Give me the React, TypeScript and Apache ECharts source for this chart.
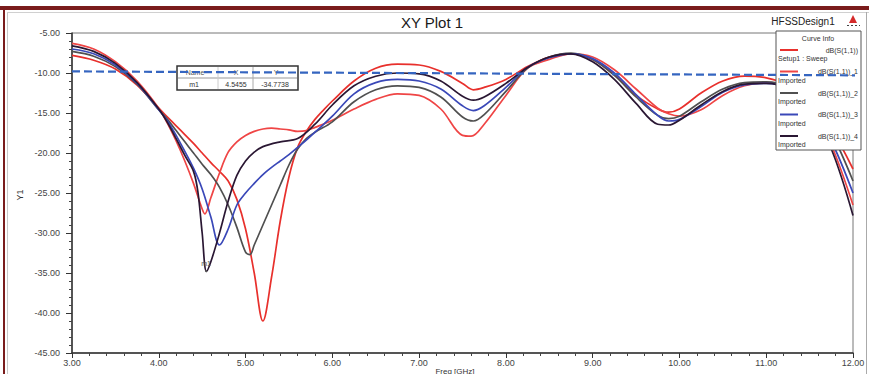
import React, { useEffect, useRef } from "react";
import * as echarts from "echarts";

// ---------- data ----------
const seriesNames = ["dB(S(1,1))", "dB(S(1,1))_1", "dB(S(1,1))_2", "dB(S(1,1))_3", "dB(S(1,1))_4"];
const seriesSubs = ["Setup1 : Sweep", "Imported", "Imported", "Imported", "Imported"];

const setupSweep: number[][] = [
  [3.0, -7.8], [3.25, -8.4], [3.5, -9.5], [3.75, -11.5], [4.0, -14.4], [4.1, -15.5], [4.2, -16.6], [4.3, -17.7],
  [4.4, -18.8], [4.5, -20.0], [4.6, -21.2], [4.7, -22.3], [4.8, -23.5], [4.9, -25.8], [5.0, -29.5], [5.1, -35.0],
  [5.2, -41.0], [5.3, -35.5], [5.4, -28.5], [5.5, -23.0], [5.6, -19.3], [5.7, -17.3], [5.8, -15.8], [5.9, -14.6],
  [6.0, -13.5], [6.25, -11.0], [6.5, -9.4], [6.75, -8.9], [7.0, -9.0], [7.25, -9.8], [7.5, -11.3], [7.625, -12.1],
  [7.75, -11.8], [8.0, -10.8], [8.25, -9.2], [8.5, -8.0], [8.75, -7.6], [9.0, -8.3], [9.25, -10.2], [9.5, -12.8],
  [9.75, -14.5], [9.875, -14.9], [10.0, -14.5], [10.25, -12.5], [10.5, -11.0], [10.75, -10.4], [11.0, -10.6],
  [11.25, -11.5], [11.5, -13.5], [11.75, -17.0], [12.0, -22.0],
];

const imported1: number[][] = [
  [3.0, -6.3], [3.25, -7.0], [3.5, -8.6], [3.75, -11.0], [4.0, -14.4], [4.1, -16.3], [4.2, -18.5], [4.3, -21.0],
  [4.4, -23.8], [4.5, -27.0], [4.53, -27.6], [4.6, -25.6], [4.7, -22.5], [4.8, -19.9], [4.9, -18.6], [5.0, -17.8],
  [5.1, -17.3], [5.2, -17.0], [5.3, -16.9], [5.4, -17.0], [5.5, -17.1], [5.6, -17.3], [5.7, -17.2], [5.8, -16.8],
  [6.0, -15.9], [6.25, -14.5], [6.5, -13.3], [6.75, -12.6], [7.0, -12.8], [7.25, -14.5], [7.5, -17.8], [7.6, -17.9],
  [7.75, -16.4], [8.0, -12.8], [8.25, -9.4], [8.5, -8.3], [8.75, -7.6], [9.0, -8.0], [9.25, -9.6], [9.5, -12.0],
  [9.75, -14.4], [9.875, -15.1], [10.0, -15.4], [10.25, -14.6], [10.5, -12.8], [10.75, -11.6], [11.0, -11.2],
  [11.25, -11.6], [11.5, -13.8], [11.75, -19.0], [12.0, -26.5],
];

const imported2: number[][] = [
  [3.0, -7.3], [3.25, -7.9], [3.5, -9.2], [3.75, -11.4], [4.0, -14.6], [4.1, -15.8], [4.2, -17.2], [4.3, -18.6],
  [4.4, -20.0], [4.5, -21.4], [4.6, -22.7], [4.7, -24.3], [4.8, -26.5], [4.9, -29.3], [5.0, -32.4], [5.05, -32.7],
  [5.1, -31.5], [5.2, -29.0], [5.3, -26.5], [5.4, -24.0], [5.5, -21.5], [5.6, -19.5], [5.7, -18.2], [5.8, -17.4],
  [6.0, -16.1], [6.25, -13.6], [6.5, -12.1], [6.75, -11.6], [7.0, -11.8], [7.25, -13.0], [7.5, -15.5], [7.625, -16.0],
  [7.75, -15.2], [8.0, -12.3], [8.25, -9.4], [8.5, -8.0], [8.75, -7.5], [9.0, -8.3], [9.25, -10.3], [9.5, -13.0],
  [9.75, -15.3], [9.875, -15.7], [10.0, -15.4], [10.25, -13.6], [10.5, -12.0], [10.75, -11.2], [11.0, -11.1],
  [11.25, -11.7], [11.5, -13.6], [11.75, -17.5], [12.0, -23.5],
];

const imported3: number[][] = [
  [3.0, -7.0], [3.25, -7.6], [3.5, -9.0], [3.75, -11.3], [4.0, -14.6], [4.1, -16.0], [4.2, -17.8], [4.3, -19.8],
  [4.4, -21.9], [4.5, -24.5], [4.6, -28.0], [4.7, -31.5], [4.8, -29.5], [4.9, -26.5], [5.0, -25.0], [5.1, -23.8],
  [5.2, -22.7], [5.3, -21.8], [5.4, -21.0], [5.5, -20.2], [5.6, -19.3], [5.7, -18.4], [5.8, -17.4], [6.0, -15.4],
  [6.25, -12.6], [6.5, -11.2], [6.75, -10.8], [7.0, -11.0], [7.25, -12.0], [7.5, -14.1], [7.625, -14.7], [7.75, -14.1],
  [8.0, -11.8], [8.25, -9.3], [8.5, -8.1], [8.75, -7.6], [9.0, -8.2], [9.25, -10.0], [9.5, -12.7], [9.75, -15.3],
  [9.875, -16.0], [10.0, -15.8], [10.25, -14.2], [10.5, -12.4], [10.75, -11.5], [11.0, -11.3], [11.25, -11.9],
  [11.5, -14.0], [11.75, -18.5], [12.0, -25.0],
];

const imported4: number[][] = [
  [3.0, -6.6], [3.25, -7.3], [3.5, -8.8], [3.75, -11.2], [4.0, -14.5], [4.1, -16.2], [4.2, -18.2], [4.3, -20.3],
  [4.4, -22.3], [4.45, -24.8], [4.5, -30.0], [4.55, -34.8], [4.6, -33.6], [4.7, -30.0], [4.8, -26.0], [4.9, -22.8],
  [5.0, -21.0], [5.1, -19.9], [5.2, -19.2], [5.4, -18.6], [5.6, -18.2], [5.8, -16.4], [6.0, -14.0], [6.25, -11.6],
  [6.5, -10.4], [6.75, -10.0], [7.0, -10.1], [7.25, -11.0], [7.5, -12.9], [7.625, -13.4], [7.75, -13.0], [8.0, -11.3],
  [8.25, -9.3], [8.5, -8.0], [8.75, -7.6], [9.0, -8.6], [9.25, -10.8], [9.5, -13.8], [9.75, -16.4], [9.875, -16.5],
  [10.0, -15.9], [10.25, -14.0], [10.5, -12.3], [10.75, -11.4], [11.0, -11.3], [11.25, -12.0], [11.5, -14.5],
  [11.75, -19.5], [12.0, -27.8],
];

const refLine: number[][] = [[3.0, -9.8], [12.2, -10.3]];

const markerName = "m1";
const markerX = 4.5455;
const markerY = -34.7738;

const xMin = 3, xMax = 12, xStep = 1;
const yMin = -45, yMax = -5, yStep = 5;

const allSeries = [setupSweep, imported1, imported2, imported3, imported4];
const colors = ["#e8302c", "#ef4545", "#505050", "#3a48b8", "#2a1733"];

const FONT = "Liberation Sans, Arial, sans-serif";

export default function App() {
  const ref = useRef<HTMLDivElement>(null);
  useEffect(() => {
    if (!ref.current) return;
    const chart = echarts.init(ref.current, undefined, { renderer: "svg" });

    const series: any[] = allSeries.map((d, i) => ({
      name: seriesNames[i],
      type: "line",
      data: d,
      smooth: 0.35,
      showSymbol: false,
      symbol: "none",
      lineStyle: { color: colors[i], width: 1.7 },
      z: 2,
      markPoint:
        i === 4
          ? {
              symbol: "circle",
              symbolSize: 2,
              itemStyle: { color: "#555" },
              label: { show: true, formatter: markerName, position: "top", fontSize: 7, color: "#555", fontFamily: FONT, distance: 3 },
              data: [{ coord: [markerX, markerY] }],
            }
          : undefined,
    }));
    series.push({
      type: "line",
      data: refLine,
      showSymbol: false,
      symbol: "none",
      clip: false,
      lineStyle: { color: "#3565c0", width: 2.2, type: [8, 4] },
      z: 20,
    });

    const rowY = [50, 71.5, 93, 114.5, 136];
    const legendEls: any[] = [
      { type: "rect", z: 10, shape: { x: 776, y: 31, width: 85, height: 119 }, style: { fill: "#fff", stroke: "#555", lineWidth: 1 } },
      { type: "text", z: 11, x: 818, y: 38, style: { text: "Curve Info", fontSize: 7, fontFamily: FONT, fill: "#333", align: "center", verticalAlign: "middle", textAlign: "center", textVerticalAlign: "middle" } },
    ];
    seriesNames.forEach((n, i) => {
      legendEls.push({ type: "line", z: 11, shape: { x1: 780, y1: rowY[i], x2: 798, y2: rowY[i] }, style: { stroke: colors[i], lineWidth: 2 } });
      legendEls.push({ type: "text", z: 11, x: 858, y: rowY[i], style: { text: n, fontSize: 7, fontFamily: FONT, fill: "#333", align: "right", verticalAlign: "middle", textAlign: "right", textVerticalAlign: "middle" } });
      legendEls.push({ type: "text", z: 11, x: 778, y: rowY[i] + 8.5, style: { text: seriesSubs[i], fontSize: 7, fontFamily: FONT, fill: "#333", align: "left", verticalAlign: "middle", textAlign: "left", textVerticalAlign: "middle" } });
    });

    const txt = (text: string, x: number, y: number, size: number, align = "center", fill = "#333", extra: any = {}) => ({
      type: "text",
      z: 11,
      x,
      y,
      ...extra,
      style: { text, fontSize: size, fontFamily: FONT, fill, align, verticalAlign: "middle", textAlign: align, textVerticalAlign: "middle" },
    });

    const markerEls: any[] = [
      { type: "rect", z: 10, shape: { x: 177, y: 66, width: 121, height: 24 }, style: { fill: "#fff", stroke: "#333", lineWidth: 1.5 } },
      { type: "line", z: 11, shape: { x1: 178, y1: 78, x2: 297, y2: 78 }, style: { stroke: "#999", lineWidth: 1 } },
      { type: "line", z: 11, shape: { x1: 253, y1: 67, x2: 253, y2: 89 }, style: { stroke: "#aaa", lineWidth: 1 } },
      { type: "line", z: 11, shape: { x1: 218, y1: 67, x2: 218, y2: 89 }, style: { stroke: "#ccc", lineWidth: 1 } },
      txt("Name", 195, 72, 7, "center", "#555"),
      txt("X", 236, 72, 7, "center", "#555"),
      txt("Y", 276, 72, 7, "center", "#555"),
      txt(markerName, 194, 84.5, 7, "center", "#333"),
      txt(markerX.toFixed(4), 236, 84.5, 7, "center", "#333"),
      txt(markerY.toFixed(4), 275, 84.5, 7, "center", "#333"),
    ];

    const frameEls: any[] = [
      { type: "rect", z: 1, shape: { x: 0, y: 6, width: 869, height: 4 }, style: { fill: "#7a1c1c" } },
      { type: "rect", z: 1, shape: { x: 3, y: 6, width: 2, height: 368 }, style: { fill: "#7a1c1c" } },
      { type: "line", z: 1, shape: { x1: 7.5, y1: 12, x2: 7.5, y2: 374 }, style: { stroke: "#c8c8c8", lineWidth: 1 } },
      { type: "line", z: 1, shape: { x1: 7, y1: 12.5, x2: 869, y2: 12.5 }, style: { stroke: "#d0d0d0", lineWidth: 1 } },
      { type: "line", z: 1, shape: { x1: 866.5, y1: 12, x2: 866.5, y2: 374 }, style: { stroke: "#aaa", lineWidth: 1 } },
      txt("XY Plot 1", 432, 22, 15, "center", "#1a1a1a"),
      txt("HFSSDesign1", 803, 21, 10, "center", "#222"),
      { type: "polygon", z: 11, shape: { points: [[853, 15], [849, 23], [857, 23]] }, style: { fill: "#d42a2a" } },
      { type: "line", z: 11, shape: { x1: 847, y1: 25.5, x2: 860, y2: 25.5 }, style: { stroke: "#444", lineWidth: 1, lineDash: [2, 2] } },
      txt("Y1", 20, 195, 9, "center", "#333", { rotation: Math.PI / 2 }),
      txt("Freq [GHz]", 455, 371, 8, "center", "#333"),
    ];

    const axisLabel = (fmt: (v: number) => string, margin: number) => ({
      formatter: fmt,
      fontSize: 9,
      color: "#444",
      fontFamily: FONT,
      margin,
    });

    chart.setOption({
      animation: false,
      backgroundColor: "#fff",
      grid: { left: 72, right: 16, top: 33, bottom: 21, show: true, borderColor: "#777", borderWidth: 1, containLabel: false },
      xAxis: {
        type: "value",
        min: xMin,
        max: xMax,
        interval: xStep,
        axisLine: { show: true, onZero: false, lineStyle: { color: "#333", width: 1.5 } },
        axisTick: { show: true, length: 5, lineStyle: { color: "#333" } },
        minorTick: { show: true, splitNumber: 5, length: 3, lineStyle: { color: "#444" } },
        splitLine: { show: false },
        axisLabel: axisLabel((v: number) => v.toFixed(2), 5),
      },
      yAxis: {
        type: "value",
        min: yMin,
        max: yMax,
        interval: yStep,
        axisLine: { show: true, onZero: false, lineStyle: { color: "#333", width: 1.5 } },
        axisTick: { show: true, length: 6, lineStyle: { color: "#333" } },
        minorTick: { show: true, splitNumber: 5, length: 3, lineStyle: { color: "#444" } },
        splitLine: { show: false },
        axisLabel: axisLabel((v: number) => v.toFixed(2), 12),
      },
      graphic: { elements: [...frameEls, ...markerEls, ...legendEls] },
      series,
    });
    return () => chart.dispose();
  }, []);
  return <div ref={ref} style={{ position: "fixed", left: 0, top: 0, width: 869, height: 374 }} />;
}
